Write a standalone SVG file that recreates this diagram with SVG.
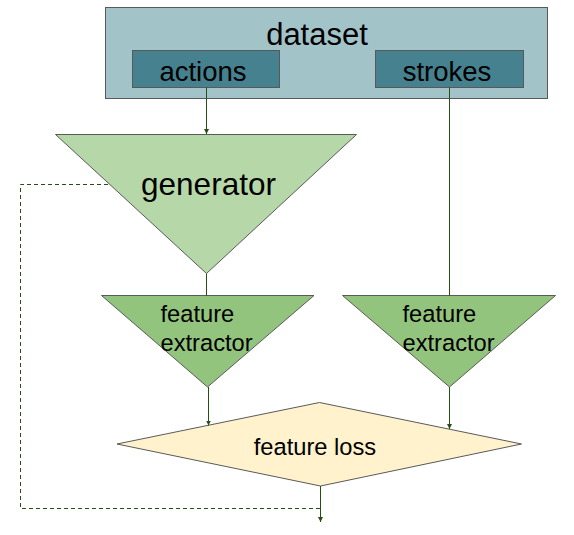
<svg xmlns="http://www.w3.org/2000/svg" width="574" height="535" viewBox="0 0 574 535">
<defs>
<style>
.shape{stroke:#595959;stroke-width:1}
.t{font-family:"Liberation Sans",Arial,sans-serif;fill:#000}
.c{fill:none;stroke:#274e13;stroke-width:1}
.d{fill:none;stroke:#274e13;stroke-width:1;stroke-dasharray:4,3}
</style>
<marker id="ah" markerWidth="6" markerHeight="6" refX="5" refY="3" orient="auto" markerUnits="userSpaceOnUse">
<path d="M0,0.5 L5,3 L0,5.5 Z" fill="#274e13"/>
</marker>
</defs>
<rect width="574" height="535" fill="#fff"/>
<g id="dataset">
<rect class="shape" x="105.5" y="7.5" width="442" height="91" fill="#a2c4c9"/>
<text class="t" x="317" y="45" font-size="31" text-anchor="middle">dataset</text>
</g>
<g id="actions">
<rect class="shape" x="132.5" y="50.5" width="147" height="37" fill="#45818e"/>
<text class="t" x="203" y="81" font-size="27.5" text-anchor="middle">actions</text>
</g>
<g id="strokes">
<rect class="shape" x="375.5" y="50.5" width="148" height="37" fill="#45818e"/>
<text class="t" x="447" y="81" font-size="27.5" text-anchor="middle">strokes</text>
</g>
<g id="generator">
<polygon class="shape" points="55.5,134.5 356.5,134.5 206.5,273.5" fill="#b6d7a8"/>
<text class="t" x="208.5" y="195" font-size="31.5" text-anchor="middle">generator</text>
</g>
<g id="extractor1">
<polygon class="shape" points="101.5,295.5 314,295.5 207.5,387" fill="#93c47d"/>
<text class="t" x="160.5" y="321.5" font-size="23.7">feature</text>
<text class="t" x="160.5" y="350.5" font-size="23.7">extractor</text>
</g>
<g id="extractor2">
<polygon class="shape" points="342.5,295.5 555.5,295.5 449.5,387" fill="#93c47d"/>
<text class="t" x="402.5" y="321.5" font-size="23.7">feature</text>
<text class="t" x="402.5" y="350.5" font-size="23.7">extractor</text>
</g>
<g id="loss">
<polygon class="shape" points="117,444 319.5,402.5 521.5,444 320.5,486" fill="#fff2cc"/>
<text class="t" x="315" y="455" font-size="23.7" text-anchor="middle">feature loss</text>
</g>
<g id="connectors">
<line class="c" x1="206.5" y1="87.5" x2="206.5" y2="134" marker-end="url(#ah)"/>
<line class="c" x1="449.5" y1="87.5" x2="449.5" y2="295.5" stroke="#4a5a40"/>
<line class="c" x1="206.5" y1="273.5" x2="206.5" y2="295.5"/>
<line class="c" x1="208.5" y1="387" x2="208.5" y2="425.5" marker-end="url(#ah)"/>
<line class="c" x1="449.5" y1="387" x2="449.5" y2="429" marker-end="url(#ah)"/>
<line class="c" x1="320.5" y1="486" x2="320.5" y2="522" marker-end="url(#ah)"/>
<polyline class="d" points="108,184.5 20.5,184.5 20.5,508.5 320.5,508.5"/>
</g>
</svg>
